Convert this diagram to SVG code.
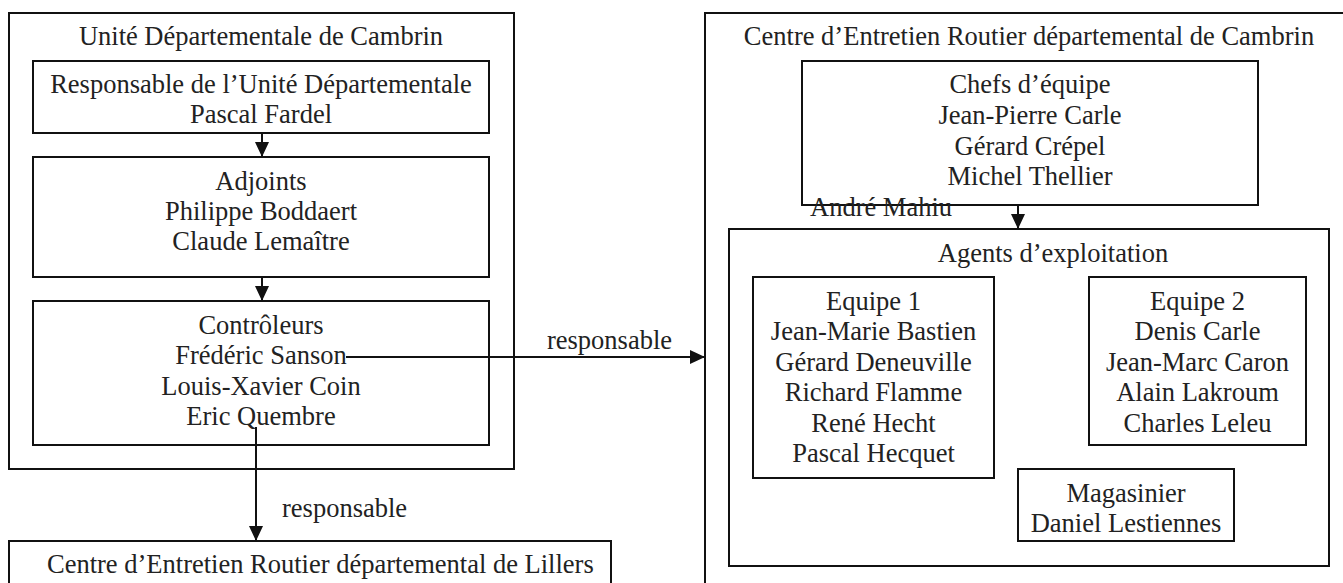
<svg xmlns="http://www.w3.org/2000/svg" width="1343" height="583" viewBox="0 0 1343 583">
<style>
.box{fill:none;stroke:#111;stroke-width:2}
.t{font-family:"Liberation Serif","Times New Roman",serif;font-size:26.5px;fill:#222;text-anchor:middle}
.s{text-anchor:start}
.c{stroke:#111;stroke-width:2;fill:none}
</style>
<defs>
<marker id="ah" markerWidth="15" markerHeight="14" refX="15" refY="7" orient="auto" markerUnits="userSpaceOnUse">
<path d="M0,0 L15,7 L0,14 z" fill="#111"/>
</marker>
</defs>
<rect width="1343" height="583" fill="#fff"/>
<g id="ud-cambrin">
<rect class="box" x="9" y="13" width="505" height="456"/>
<text class="t" x="261" y="45">Unité Départementale de Cambrin</text>
</g>
<g id="responsable-ud">
<rect class="box" x="33" y="61" width="456" height="72"/>
<text class="t" x="261" y="93">Responsable de l’Unité Départementale</text>
<text class="t" x="261" y="123">Pascal Fardel</text>
</g>
<g id="adjoints">
<rect class="box" x="33" y="157" width="456" height="120"/>
<text class="t" x="261" y="190">Adjoints</text>
<text class="t" x="261" y="220">Philippe Boddaert</text>
<text class="t" x="261" y="250">Claude Lemaître</text>
</g>
<g id="controleurs">
<rect class="box" x="33" y="301" width="456" height="144"/>
<text class="t" x="261" y="334">Contrôleurs</text>
<text class="t" x="261" y="364">Frédéric Sanson</text>
<text class="t" x="261" y="395">Louis-Xavier Coin</text>
<text class="t" x="261" y="425">Eric Quembre</text>
</g>
<g id="cer-lillers">
<rect class="box" x="9" y="541" width="602" height="60"/>
<text class="t s" x="47" y="573">Centre d’Entretien Routier départemental de Lillers</text>
</g>
<g id="cer-cambrin">
<rect class="box" x="705" y="13" width="650" height="590"/>
<text class="t" x="1029" y="45">Centre d’Entretien Routier départemental de Cambrin</text>
</g>
<g id="chefs">
<rect class="box" x="802" y="61" width="456" height="144"/>
<text class="t" x="1030" y="93">Chefs d’équipe</text>
<text class="t" x="1030" y="124">Jean-Pierre Carle</text>
<text class="t" x="1030" y="155">Gérard Crépel</text>
<text class="t" x="1030" y="185">Michel Thellier</text>
<text class="t s" x="810" y="216">André Mahiu</text>
</g>
<g id="agents">
<rect class="box" x="729" y="229" width="600" height="337"/>
<text class="t" x="1053" y="262">Agents d’exploitation</text>
</g>
<g id="equipe1">
<rect class="box" x="753" y="277" width="241" height="201"/>
<text class="t" x="873.5" y="310">Equipe 1</text>
<text class="t" x="873.5" y="340">Jean-Marie Bastien</text>
<text class="t" x="873.5" y="371">Gérard Deneuville</text>
<text class="t" x="873.5" y="401">Richard Flamme</text>
<text class="t" x="873.5" y="432">René Hecht</text>
<text class="t" x="873.5" y="462">Pascal Hecquet</text>
</g>
<g id="equipe2">
<rect class="box" x="1089" y="277" width="217" height="168"/>
<text class="t" x="1197.5" y="310">Equipe 2</text>
<text class="t" x="1197.5" y="340">Denis Carle</text>
<text class="t" x="1197.5" y="371">Jean-Marc Caron</text>
<text class="t" x="1197.5" y="401">Alain Lakroum</text>
<text class="t" x="1197.5" y="432">Charles Leleu</text>
</g>
<g id="magasinier">
<rect class="box" x="1018" y="469" width="216" height="72"/>
<text class="t" x="1126" y="502">Magasinier</text>
<text class="t" x="1126" y="532">Daniel Lestiennes</text>
</g>
<g id="connectors">
<line class="c" x1="262" y1="133" x2="262" y2="157" marker-end="url(#ah)"/>
<line class="c" x1="262" y1="277" x2="262" y2="301" marker-end="url(#ah)"/>
<line class="c" x1="1018" y1="205" x2="1018" y2="229" marker-end="url(#ah)"/>
<line class="c" x1="346" y1="357" x2="705" y2="357" marker-end="url(#ah)"/>
<line class="c" x1="256" y1="427" x2="256" y2="541" marker-end="url(#ah)"/>
<text class="t" x="609.5" y="349">responsable</text>
<text class="t s" x="282" y="517">responsable</text>
</g>
</svg>
